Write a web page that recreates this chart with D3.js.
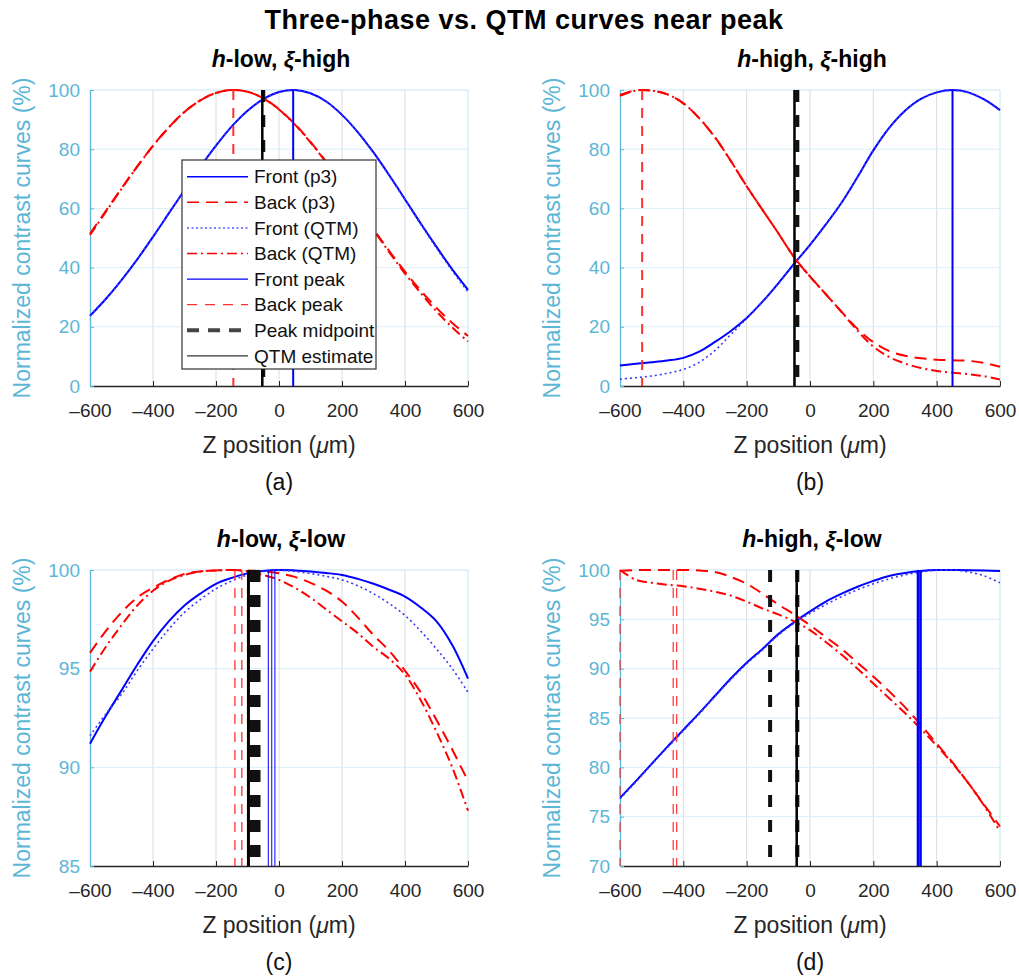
<!DOCTYPE html>
<html>
<head>
<meta charset="utf-8">
<script src="https://cdn.jsdelivr.net/npm/d3@7"></script>
<style>
  body { margin: 0; background: #fff; }
  svg { display: block; font-family: "Liberation Sans", Arial, sans-serif; }
</style>
</head>
<body>
<svg id="fig" width="1019" height="979"></svg>
<script>
// z positions (um) shared by every curve
const zPos = [-600, -550, -500, -450, -400, -350, -300, -250, -200, -150, -100, -50, 0,
              50, 100, 150, 200, 250, 300, 350, 400, 450, 500, 550, 600];
const zTicks = [-600, -400, -200, 0, 200, 400, 600];

// (a) h-low, xi-high
const aFrontP3  = [23.7, 29.4, 35.8, 42.8, 50.4, 58.3, 66.2, 74.0, 81.2, 87.7, 93.0, 96.9, 99.3, 100.0, 98.9, 96.1, 91.6, 85.8, 78.9, 71.2, 63.1, 54.9, 47.0, 39.4, 32.5];
const aBackP3   = [51.5, 59.1, 66.8, 74.2, 81.2, 87.4, 92.6, 96.5, 99.0, 100.0, 99.4, 97.2, 93.5, 88.5, 82.5, 75.7, 68.3, 60.7, 53.0, 45.6, 38.6, 32.2, 26.4, 21.3, 16.9];
const aFrontQTM = [23.9, 29.5, 35.8, 42.7, 50.3, 58.2, 66.1, 73.9, 81.1, 87.6, 92.9, 96.8, 99.2, 99.9, 98.8, 96.0, 91.5, 85.7, 78.8, 71.0, 62.9, 54.6, 46.6, 38.9, 31.8];
const aBackQTM  = [51.0, 58.8, 66.6, 74.1, 81.1, 87.3, 92.6, 96.5, 99.0, 100.0, 99.4, 97.2, 93.4, 88.4, 82.3, 75.5, 68.1, 60.4, 52.7, 45.2, 38.0, 31.4, 25.2, 19.8, 15.0];
const aFrontPeak = [45];
const aBackPeak = [-145];
const aMidpoint = [-50];
const aQtmEst = [-53];
const aTicks = [0, 20, 40, 60, 80, 100];

// (b) h-high, xi-high
const bFrontP3  = [6.9, 7.5, 8.0, 8.6, 9.5, 11.6, 14.9, 18.6, 23.0, 28.5, 34.7, 41.3, 47.7, 54.6, 62.0, 70.6, 79.6, 87.2, 93.0, 97.0, 99.2, 100.0, 99.2, 96.8, 93.2];
const bBackP3   = [98.3, 99.9, 99.8, 98.5, 95.5, 90.5, 84.0, 76.0, 67.5, 59.5, 51.6, 43.5, 37.0, 31.0, 25.0, 19.3, 14.8, 11.8, 10.2, 9.4, 8.9, 8.7, 8.5, 7.8, 6.5];
const bFrontQTM = [2.3, 2.8, 3.4, 4.3, 5.6, 8.0, 12.0, 17.4, 22.8, 28.4, 34.6, 41.2, 47.6, 54.5, 61.9, 70.5, 79.5, 87.1, 92.9, 96.9, 99.1, 99.9, 99.1, 96.7, 93.0];
const bBackQTM  = [98.0, 99.8, 99.8, 98.5, 95.5, 90.5, 84.0, 76.0, 67.5, 59.5, 51.6, 43.5, 37.0, 31.0, 25.0, 18.7, 13.3, 9.8, 7.6, 6.1, 5.1, 4.5, 4.0, 3.3, 2.2];
const bFrontPeak = [450];
const bBackPeak = [-530];
const bMidpoint = [-40];
const bQtmEst = [-49];
const bTicks = [0, 20, 40, 60, 80, 100];

// (c) h-low, xi-low
const cFrontP3  = [91.2, 92.6, 93.9, 95.2, 96.4, 97.4, 98.2, 98.8, 99.3, 99.6, 99.83, 99.95, 100, 99.98, 99.93, 99.85, 99.75, 99.55, 99.3, 99.0, 98.65, 98.1, 97.4, 96.2, 94.5];
const cBackP3   = [95.8, 96.9, 97.85, 98.6, 99.1, 99.5, 99.8, 99.93, 99.98, 100, 99.98, 99.93, 99.83, 99.65, 99.35, 98.95, 98.4, 97.6, 96.7, 95.9, 94.9, 93.8, 92.4, 90.9, 89.3];
const cFrontQTM = [91.6, 92.7, 93.7, 94.9, 96.0, 97.0, 97.85, 98.5, 99.05, 99.45, 99.75, 99.92, 99.98, 99.93, 99.82, 99.68, 99.5, 99.2, 98.8, 98.3, 97.7, 96.9, 96.0, 95.0, 93.8];
const cBackQTM  = [94.85, 96.1, 97.2, 98.2, 98.95, 99.45, 99.75, 99.92, 99.98, 100, 99.93, 99.75, 99.5, 99.1, 98.6, 98.0, 97.4, 96.8, 96.1, 95.5, 94.7, 93.4, 91.8, 90.0, 87.8];
const cFrontPeak = [-34, -23, -13];
const cBackPeak = [-140, -118];
const cMidpoint = [-87, -81, -76, -70, -65];
const cQtmEst = [-97];
const cTicks = [85, 90, 95, 100];

// (d) h-high, xi-low
const dFrontP3  = [76.9, 78.6, 80.35, 82.1, 83.8, 85.5, 87.25, 89.0, 90.6, 92.0, 93.5, 94.7, 95.8, 96.8, 97.6, 98.3, 98.9, 99.4, 99.7, 99.9, 100, 100, 99.98, 99.95, 99.9];
const dBackP3   = [99.9, 100, 100, 100, 100, 99.95, 99.8, 99.3, 98.6, 97.6, 96.5, 95.5, 94.4, 93.2, 92.0, 90.6, 89.2, 87.7, 86.1, 84.3, 82.4, 80.5, 78.4, 76.2, 74.0];
const dFrontQTM = [76.8, 78.5, 80.3, 82.0, 83.7, 85.4, 87.2, 88.9, 90.5, 91.9, 93.4, 94.6, 95.6, 96.5, 97.3, 98.0, 98.6, 99.1, 99.5, 99.8, 99.97, 100, 99.8, 99.4, 98.7];
const dBackQTM  = [100, 99.0, 98.7, 98.5, 98.35, 98.1, 97.8, 97.4, 96.8, 96.1, 95.5, 94.8, 93.9, 92.7, 91.4, 90.0, 88.5, 87.0, 85.5, 83.9, 82.2, 80.4, 78.4, 76.1, 73.5];
const dFrontPeak = [341, 349];
const dBackPeak = [-600, -432, -421];
const dMidpoint = [-126, -40];
const dQtmEst = [-42];
const dTicks = [70, 75, 80, 85, 90, 95, 100];

const legendNames = ["Front (p3)", "Back (p3)", "Front (QTM)", "Back (QTM)",
                     "Front peak", "Back peak", "Peak midpoint", "QTM estimate"];

const yBlue = "#5cb6d6";
const xDark = "#262626";

// line styles, same order as the legend
const styles = [
  { color: "#0000ff", width: 2, dash: null },
  { color: "#ff0000", width: 2, dash: "12,7" },
  { color: "#3a3aff", width: 1.6, dash: "2,3" },
  { color: "#ff0000", width: 2, dash: "10,4,2,4" },
  { color: "#0000ff", width: 1.3, dash: null },
  { color: "#ff3030", width: 1.3, dash: "10,8" },
  { color: "#111111", width: 4, dash: "12,13" },
  { color: "#000000", width: 2.5, dash: null }
];

const panels = [
  { tag: "(a)", h: "low", xi: "high", left: 90, right: 468, top: 90, bottom: 386, yDomain: [0, 100], yTicks: aTicks,
    curves: [aFrontP3, aBackP3, aFrontQTM, aBackQTM], peaks: [aFrontPeak, aBackPeak, aMidpoint, aQtmEst],
    peakW: [2, 2, 4, 2.5], legend: true },
  { tag: "(b)", h: "high", xi: "high", left: 620, right: 1000, top: 90, bottom: 386, yDomain: [0, 100], yTicks: bTicks,
    curves: [bFrontP3, bBackP3, bFrontQTM, bBackQTM], peaks: [bFrontPeak, bBackPeak, bMidpoint, bQtmEst],
    peakW: [2, 2, 4, 2.5] },
  { tag: "(c)", h: "low", xi: "low", left: 90, right: 468, top: 570, bottom: 866, yDomain: [85, 100], yTicks: cTicks,
    curves: [cFrontP3, cBackP3, cFrontQTM, cBackQTM], peaks: [cFrontPeak, cBackPeak, cMidpoint, cQtmEst],
    peakW: [1, 1.3, 4, 3] },
  { tag: "(d)", h: "high", xi: "low", left: 620, right: 1000, top: 570, bottom: 866, yDomain: [70, 100], yTicks: dTicks,
    curves: [dFrontP3, dBackP3, dFrontQTM, dBackQTM], peaks: [dFrontPeak, dBackPeak, dMidpoint, dQtmEst],
    peakW: [2.6, 1.2, 4, 2.5] }
];

const svg = d3.select("#fig");

svg.append("text")
  .attr("x", 524).attr("y", 29)
  .attr("text-anchor", "middle")
  .attr("font-size", 27).attr("font-weight", "bold")
  .attr("letter-spacing", 0.5)
  .attr("fill", "#000")
  .text("Three-phase vs. QTM curves near peak");

function applyStyle(sel, st, w) {
  sel.attr("fill", "none")
    .attr("stroke", st.color)
    .attr("stroke-width", w != null ? w : st.width)
    .attr("stroke-dasharray", st.dash);
}

function drawPanel(p, i) {
  const x = d3.scaleLinear().domain([-600, 600]).range([p.left, p.right]);
  const y = d3.scaleLinear().domain(p.yDomain).range([p.bottom, p.top]);
  const g = svg.append("g");

  // grid
  g.append("g").selectAll("line").data(zTicks.slice(1, -1)).join("line")
    .attr("x1", d => x(d)).attr("x2", d => x(d))
    .attr("y1", p.top).attr("y2", p.bottom)
    .attr("stroke", "#dcdcdc").attr("stroke-width", 1);
  g.append("g").selectAll("line").data(p.yTicks.slice(1, -1)).join("line")
    .attr("x1", p.left).attr("x2", p.right)
    .attr("y1", d => y(d)).attr("y2", d => y(d))
    .attr("stroke", "#d9eff7").attr("stroke-width", 1);

  // box: top and right edges light blue
  g.append("line").attr("x1", p.left).attr("x2", p.right).attr("y1", p.top).attr("y2", p.top)
    .attr("stroke", "#c4e5f1");
  g.append("line").attr("x1", p.right).attr("x2", p.right).attr("y1", p.top).attr("y2", p.bottom)
    .attr("stroke", "#c4e5f1");

  // axes
  const xAxis = g.append("g")
    .attr("transform", `translate(0,${p.bottom})`)
    .attr("color", xDark)
    .call(d3.axisBottom(x).tickValues(zTicks).tickSize(-5).tickSizeOuter(0).tickPadding(17.5)
      .tickFormat(d => d < 0 ? "\u2013" + Math.abs(d) : d));
  xAxis.selectAll("text").attr("font-size", 19).attr("font-family", "Liberation Sans, Arial, sans-serif");
  xAxis.select(".domain").attr("stroke-width", 1.3);

  const yAxis = g.append("g")
    .attr("transform", `translate(${p.left},0)`)
    .attr("color", yBlue)
    .call(d3.axisLeft(y).tickValues(p.yTicks).tickSize(-4).tickSizeOuter(0).tickPadding(10));
  yAxis.selectAll("text").attr("font-size", 19).attr("font-family", "Liberation Sans, Arial, sans-serif");
  yAxis.select(".domain").attr("stroke-width", 1.3);

  // clip for plot contents
  const clipId = "clip" + i;
  svg.append("clipPath").attr("id", clipId).append("rect")
    .attr("x", p.left - 2).attr("y", p.top - 2)
    .attr("width", p.right - p.left + 4).attr("height", p.bottom - p.top + 4);
  const plot = g.append("g").attr("clip-path", `url(#${clipId})`);

  const line = d3.line()
    .x((d, k) => x(zPos[k]))
    .y(d => y(d))
    .curve(d3.curveCatmullRom.alpha(0.5));

  p.curves.forEach((vals, k) => {
    plot.append("path").datum(vals).attr("d", line).call(applyStyle, styles[k]);
  });

  // vertical peak markers
  p.peaks.forEach((xs, k) => {
    plot.append("g").selectAll("line").data(xs).join("line")
      .attr("x1", d => x(d)).attr("x2", d => x(d))
      .attr("y1", y(p.yDomain[1])).attr("y2", y(p.yDomain[0]))
      .call(applyStyle, styles[k + 4], p.peakW[k]);
  });

  // titles
  const cx = (p.left + p.right) / 2;
  const sub = g.append("text")
    .attr("x", cx + 2).attr("y", p.top - 23)
    .attr("text-anchor", "middle")
    .attr("font-size", 23).attr("font-weight", "bold").attr("fill", "#000");
  sub.append("tspan").attr("font-style", "italic").text("h");
  sub.append("tspan").text("-" + p.h + ", ");
  sub.append("tspan").attr("font-style", "italic").text("\u03be");
  sub.append("tspan").text("-" + p.xi);

  const xt = g.append("text")
    .attr("x", cx).attr("y", p.bottom + 67)
    .attr("text-anchor", "middle")
    .attr("font-size", 23).attr("fill", xDark);
  xt.append("tspan").text("Z position (");
  xt.append("tspan").attr("font-style", "italic").text("\u03bc");
  xt.append("tspan").text("m)");

  g.append("text")
    .attr("transform", `translate(${p.left - 60},${(p.top + p.bottom) / 2}) rotate(-90)`)
    .attr("text-anchor", "middle")
    .attr("font-size", 23).attr("fill", yBlue)
    .text("Normalized contrast curves (%)");

  g.append("text")
    .attr("x", cx).attr("y", p.bottom + 104)
    .attr("text-anchor", "middle")
    .attr("font-size", 23).attr("fill", "#111")
    .text(p.tag);

  if (p.legend) drawLegend(g);
}

function drawLegend(g) {
  const lg = g.append("g").attr("transform", "translate(182,160)");
  lg.append("rect").attr("width", 194).attr("height", 209)
    .attr("fill", "#fff").attr("stroke", "#333").attr("stroke-width", 1.2);
  const legendStyles = styles.map((s, k) => {
    if (k === 6) return { color: "#444", width: 4, dash: "12,9" };
    if (k === 7) return { color: "#333", width: 1.2, dash: null };
    if (k === 2) return { color: "#5555ff", width: 1.5, dash: "2,2.5" };
    return s;
  });
  const rows = lg.selectAll("g.row").data(legendNames).join("g")
    .attr("class", "row")
    .attr("transform", (d, k) => `translate(0,${16.7 + k * 25.6})`);
  rows.append("line")
    .attr("x1", 5).attr("x2", 66).attr("y1", 0).attr("y2", 0)
    .each(function (d, k) { d3.select(this).call(applyStyle, legendStyles[k], k < 4 ? 1.5 : null); });
  rows.append("text")
    .attr("x", 72).attr("y", 0).attr("dy", "0.35em")
    .attr("font-size", 19).attr("fill", "#111")
    .text(d => d);
}

panels.forEach(drawPanel);
</script>
</body>
</html>
